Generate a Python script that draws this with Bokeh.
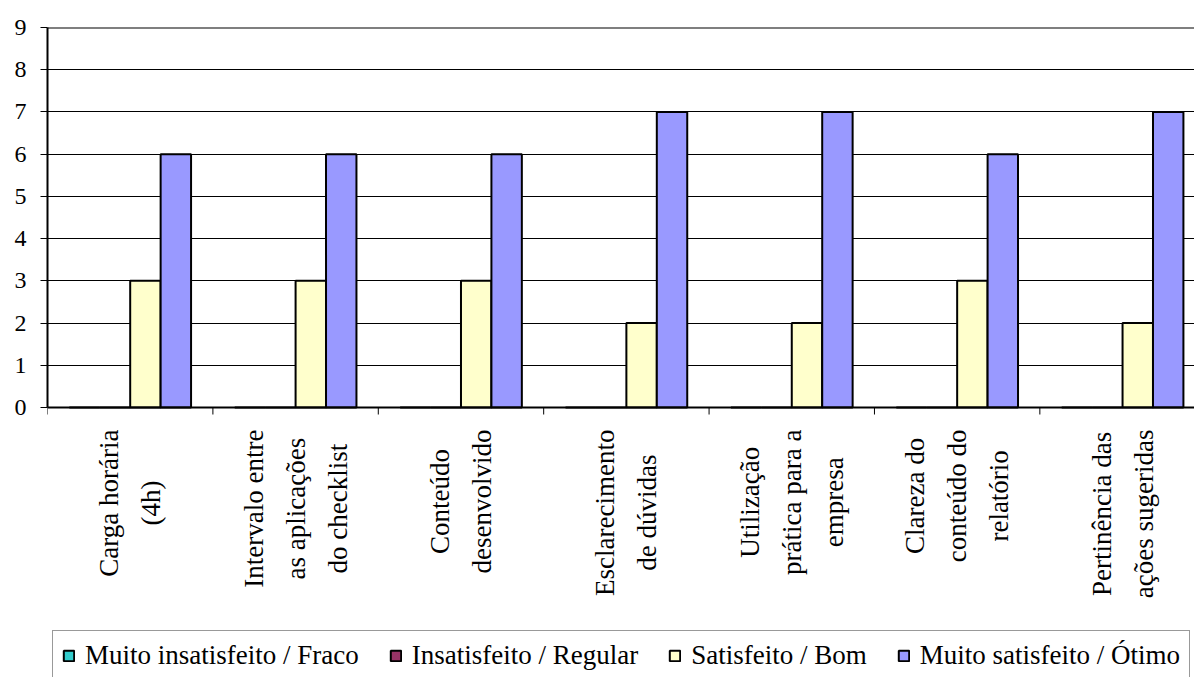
import math

from bokeh.plotting import figure
from bokeh.core.properties import value
from bokeh.models import FixedTicker, Range1d, Legend, LegendItem, Span
from bokeh.embed import file_html
from bokeh.resources import INLINE

# Survey categories (x axis), one group of four bars each
categories = [
    "Carga horária\n(4h)",
    "Intervalo entre\nas aplicações\ndo checklist",
    "Conteúdo\ndesenvolvido",
    "Esclarecimento\nde dúvidas",
    "Utilização\nprática para a\nempresa",
    "Clareza do\nconteúdo do\nrelatório",
    "Pertinência das\nações sugeridas",
]

# Number of answers per rating level
muito_insatisfeito = [0, 0, 0, 0, 0, 0, 0]
insatisfeito = [0, 0, 0, 0, 0, 0, 0]
satisfeito = [3, 3, 3, 2, 2, 3, 2]
muito_satisfeito = [6, 6, 6, 7, 7, 6, 7]

series_names = [
    "Muito insatisfeito / Fraco",
    "Insatisfeito / Regular",
    "Satisfeito / Bom",
    "Muito satisfeito / Ótimo",
]
series_values = [muito_insatisfeito, insatisfeito, satisfeito, muito_satisfeito]
series_colors = ["#33CCCC", "#993366", "#FFFFCC", "#9999FF"]

y_ticks = [0, 1, 2, 3, 4, 5, 6, 7, 8, 9]

FONT = "Liberation Serif"
BAR_W = 0.184

# Plot area: value axis 0..9 occupies the upper 380 px; the space below
# the baseline holds the category labels and the legend.
H, TOP, AXIS_H = 677, 27, 380
PX = (y_ticks[-1] - y_ticks[0]) / AXIS_H          # data units per pixel
y_bottom = -(H - TOP - AXIS_H) * PX

p = figure(
    width=1194, height=H,
    output_backend="svg", toolbar_location=None,
    x_range=Range1d(0, 6.935), y_range=Range1d(y_bottom, y_ticks[-1]),
    x_axis_location=None,
    min_border_left=47, min_border_right=0,
    min_border_top=TOP, min_border_bottom=0,
)
p.outline_line_color = None
p.background_fill_color = "white"

centers = [i + 0.5 for i in range(len(categories))]
boundaries = list(range(len(categories) + 1))

renderers = []
for k, (vals, color) in enumerate(zip(series_values, series_colors)):
    xs = [c + (k - 1.5) * BAR_W for c in centers]
    r = p.vbar(x=xs, top=vals, bottom=0, width=BAR_W,
               fill_color=color, line_color="black", line_width=2)
    renderers.append(r)

# value axis and horizontal grid
p.yaxis.ticker = FixedTicker(ticks=y_ticks)
p.yaxis.bounds = (y_ticks[0], y_ticks[-1])
p.yaxis.axis_line_width = 2
p.yaxis.axis_line_color = "black"
p.yaxis.major_tick_out = 7
p.yaxis.major_tick_in = 0
p.yaxis.major_tick_line_color = "black"
p.yaxis.minor_tick_line_color = None
p.yaxis.major_label_text_font = FONT
p.yaxis.major_label_text_font_size = "24px"
p.yaxis.major_label_text_color = "black"
p.yaxis.major_label_standoff = 14

p.ygrid.ticker = FixedTicker(ticks=y_ticks)
p.ygrid.grid_line_color = "black"
p.ygrid.grid_line_width = 1
p.xgrid.visible = False

# heavier top line and baseline
p.add_layout(Span(location=y_ticks[-1], dimension="width",
                  line_color="black", line_width=2))
p.add_layout(Span(location=y_ticks[0], dimension="width",
                  line_color="black", line_width=2))

# category axis: tick marks at group boundaries, labels at group centres
p.segment(x0=boundaries, x1=boundaries,
          y0=[0] * len(boundaries), y1=[-7 * PX] * len(boundaries),
          line_color="black", line_width=1)
p.text(x=centers, y=[-22 * PX] * len(centers), text=categories,
       angle=math.pi / 2, anchor="center_right", text_align="center",
       text_font=value(FONT), text_font_size=value("27px"),
       text_color="black", text_line_height=1.4)

legend = Legend(
    items=[LegendItem(label=n, renderers=[r]) for n, r in zip(series_names, renderers)],
    orientation="horizontal",
    location=(5, -4),
    label_text_font=FONT,
    label_text_font_size="27px",
    label_text_color="black",
    glyph_width=13, glyph_height=13,
    label_standoff=10, spacing=30,
    padding=9, margin=0,
    border_line_color="#333333", border_line_width=1,
)
p.add_layout(legend, "center")

open("out.html", "w").write(file_html(p, INLINE))
